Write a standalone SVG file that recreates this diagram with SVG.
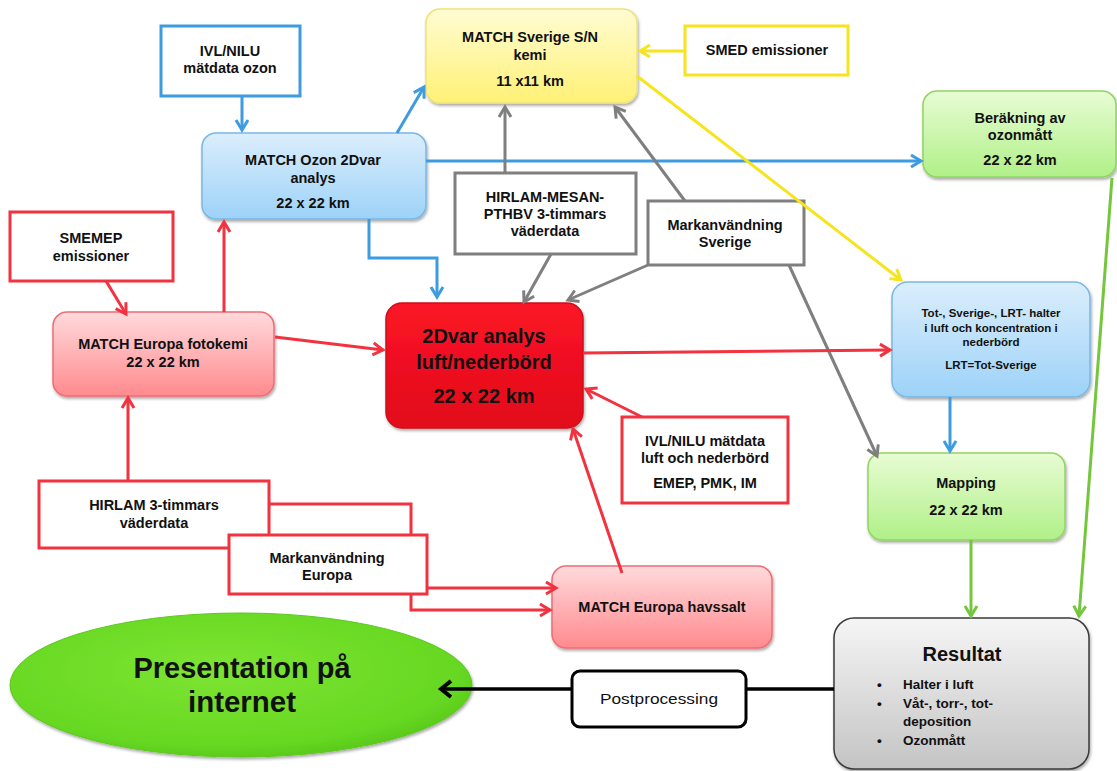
<svg xmlns="http://www.w3.org/2000/svg" width="1117" height="771" viewBox="0 0 1117 771">
<style>
.t{font-family:"Liberation Sans",Arial,sans-serif;font-weight:bold;font-size:14.5px;fill:#111;text-anchor:middle}
.s{font-size:11.5px}
.big{font-size:20px}
.pres{font-family:"Liberation Sans Narrow","Liberation Sans",Arial,sans-serif;font-size:29px}
.pp{font-family:"Liberation Sans Narrow","Liberation Sans",Arial,sans-serif;font-weight:normal;font-size:15px}
.bl{text-anchor:start;font-size:13.5px}
.c{fill:none;stroke-width:3;stroke-linejoin:miter}
.blue{stroke:#3d9be0}
.red{stroke:#f2323e}
.gray{stroke:#7f7f7f}
.yel{stroke:#f5e41e}
.grn{stroke:#74c63d}
.blk{stroke:#000;stroke-width:3.5}
.ob{fill:#fff;stroke-width:3}
</style>
<defs>
<linearGradient id="gBlue" x1="0" y1="0" x2="0" y2="1"><stop offset="0" stop-color="#dbeefc"/><stop offset="1" stop-color="#9dd2f8"/></linearGradient>
<linearGradient id="gYel" x1="0" y1="0" x2="0" y2="1"><stop offset="0" stop-color="#fffcd2"/><stop offset="1" stop-color="#fff176"/></linearGradient>
<linearGradient id="gPink" x1="0" y1="0" x2="0" y2="1"><stop offset="0" stop-color="#ffdadc"/><stop offset="1" stop-color="#ff8a8e"/></linearGradient>
<linearGradient id="gRed" x1="0" y1="0" x2="0" y2="1"><stop offset="0" stop-color="#fb1426"/><stop offset="1" stop-color="#e20c1b"/></linearGradient>
<linearGradient id="gGrn" x1="0" y1="0" x2="0" y2="1"><stop offset="0" stop-color="#e8fcd4"/><stop offset="1" stop-color="#b0f088"/></linearGradient>
<linearGradient id="gGray" x1="0" y1="0" x2="0" y2="1"><stop offset="0" stop-color="#f5f5f5"/><stop offset="1" stop-color="#c4c4c4"/></linearGradient>
<radialGradient id="gEll" cx="0.45" cy="0.4" r="0.65"><stop offset="0" stop-color="#7ee433"/><stop offset="0.8" stop-color="#66d822"/><stop offset="1" stop-color="#55c418"/></radialGradient>
<filter id="sh" x="-10%" y="-10%" width="120%" height="130%"><feDropShadow dx="1" dy="2" stdDeviation="1.5" flood-opacity="0.35"/></filter>
<marker id="aBlue" markerUnits="userSpaceOnUse" markerWidth="16" markerHeight="16" viewBox="0 0 16 16" refX="13" refY="8" orient="auto"><path d="M3,2 L13,8 L3,14" fill="none" stroke="#3d9be0" stroke-width="3"/></marker>
<marker id="aRed" markerUnits="userSpaceOnUse" markerWidth="16" markerHeight="16" viewBox="0 0 16 16" refX="13" refY="8" orient="auto"><path d="M3,2 L13,8 L3,14" fill="none" stroke="#f2323e" stroke-width="3"/></marker>
<marker id="aGray" markerUnits="userSpaceOnUse" markerWidth="16" markerHeight="16" viewBox="0 0 16 16" refX="13" refY="8" orient="auto"><path d="M3,2 L13,8 L3,14" fill="none" stroke="#7f7f7f" stroke-width="3"/></marker>
<marker id="aYel" markerUnits="userSpaceOnUse" markerWidth="16" markerHeight="16" viewBox="0 0 16 16" refX="13" refY="8" orient="auto"><path d="M3,2 L13,8 L3,14" fill="none" stroke="#f5e41e" stroke-width="3"/></marker>
<marker id="aGrn" markerUnits="userSpaceOnUse" markerWidth="16" markerHeight="16" viewBox="0 0 16 16" refX="13" refY="8" orient="auto"><path d="M3,2 L13,8 L3,14" fill="none" stroke="#74c63d" stroke-width="3"/></marker>
<marker id="aBlk" markerUnits="userSpaceOnUse" markerWidth="20" markerHeight="20" viewBox="0 0 20 20" refX="16" refY="10" orient="auto"><path d="M6,2 L16,10 L6,18" fill="none" stroke="#000" stroke-width="4"/></marker>
</defs>
<rect width="1117" height="771" fill="#fff"/>

<g id="nodes">
<g id="ivl-ozon"><rect class="ob blue" x="161" y="26" width="139" height="70"/><text class="t" x="230" y="56">IVL/NILU</text><text class="t" x="230" y="73">mätdata ozon</text></g>
<g id="match-ozon"><rect x="202" y="133" width="224" height="86" rx="14" fill="url(#gBlue)" stroke="#78b8e6" stroke-width="1.5" filter="url(#sh)"/><text class="t" x="313" y="165">MATCH Ozon 2Dvar</text><text class="t" x="313" y="183">analys</text><text class="t" x="313" y="208">22 x 22 km</text></g>
<g id="match-sverige"><rect x="426" y="9" width="211" height="94" rx="14" fill="url(#gYel)" stroke="#f0e27a" stroke-width="1.5" filter="url(#sh)"/><text class="t" x="530" y="42">MATCH Sverige S/N</text><text class="t" x="530" y="60">kemi</text><text class="t" x="530" y="86">11 x11 km</text></g>
<g id="smed"><rect class="ob yel" x="685" y="26" width="163" height="49"/><text class="t" x="767" y="55">SMED emissioner</text></g>
<g id="berakning"><rect x="923" y="91" width="193" height="86" rx="14" fill="url(#gGrn)" stroke="#92d464" stroke-width="1.5" filter="url(#sh)"/><text class="t" x="1020" y="123">Beräkning av</text><text class="t" x="1020" y="140">ozonmått</text><text class="t" x="1020" y="165">22 x 22 km</text></g>
<g id="smemep"><rect class="ob red" x="10" y="212" width="163" height="69"/><text class="t" x="91" y="243">SMEMEP</text><text class="t" x="91" y="261">emissioner</text></g>
<g id="hirlam-mesan"><rect class="ob gray" x="455" y="173" width="181" height="81"/><text class="t" x="545" y="202">HIRLAM-MESAN-</text><text class="t" x="545" y="219">PTHBV 3-timmars</text><text class="t" x="545" y="236">väderdata</text></g>
<g id="mark-sverige"><rect class="ob gray" x="648" y="201" width="156" height="64"/><text class="t" x="725" y="230">Markanvändning</text><text class="t" x="725" y="247">Sverige</text></g>
<g id="europa-fotokemi"><rect x="53" y="312" width="221" height="84" rx="14" fill="url(#gPink)" stroke="#ee6e76" stroke-width="1.5" filter="url(#sh)"/><text class="t" x="163" y="349">MATCH Europa fotokemi</text><text class="t" x="163" y="367">22 x 22 km</text></g>
<g id="dvar"><rect x="386" y="303" width="197" height="125" rx="16" fill="url(#gRed)" stroke="#d00e1a" stroke-width="1.5" filter="url(#sh)"/><text class="t big" x="484" y="343">2Dvar analys</text><text class="t big" x="484" y="369">luft/nederbörd</text><text class="t big" x="484" y="403">22 x 22 km</text></g>
<g id="tot"><rect x="892" y="282" width="198" height="115" rx="16" fill="url(#gBlue)" stroke="#78b8e6" stroke-width="1.5" filter="url(#sh)"/><text class="t s" x="991" y="317">Tot-, Sverige-, LRT- halter</text><text class="t s" x="991" y="332">i luft och koncentration i</text><text class="t s" x="991" y="346">nederbörd</text><text class="t s" x="991" y="369">LRT=Tot-Sverige</text></g>
<g id="ivl-luft"><rect class="ob red" x="622" y="417" width="166" height="86"/><text class="t" x="705" y="446">IVL/NILU mätdata</text><text class="t" x="705" y="463">luft och nederbörd</text><text class="t" x="705" y="488">EMEP, PMK, IM</text></g>
<g id="hirlam"><rect class="ob red" x="39" y="481" width="230" height="67"/><text class="t" x="154" y="510">HIRLAM 3-timmars</text><text class="t" x="154" y="528">väderdata</text></g>
<g id="mark-europa"><rect class="ob red" x="229" y="535" width="198" height="59"/><text class="t" x="327" y="563">Markanvändning</text><text class="t" x="327" y="580">Europa</text></g>
<g id="havssalt"><rect x="552" y="566" width="220" height="82" rx="14" fill="url(#gPink)" stroke="#ee6e76" stroke-width="1.5" filter="url(#sh)"/><text class="t" x="662" y="612">MATCH Europa havssalt</text></g>
<g id="mapping"><rect x="868" y="453" width="197" height="87" rx="14" fill="url(#gGrn)" stroke="#92d464" stroke-width="1.5" filter="url(#sh)"/><text class="t" x="966" y="488">Mapping</text><text class="t" x="966" y="515">22 x 22 km</text></g>
<g id="resultat"><rect x="834" y="618" width="255" height="151" rx="20" fill="url(#gGray)" stroke="#3a3a3a" stroke-width="1.5" filter="url(#sh)"/><text class="t big" x="962" y="661">Resultat</text><text class="t bl" x="877" y="689">•</text><text class="t bl" x="903" y="689">Halter i luft</text><text class="t bl" x="877" y="708">•</text><text class="t bl" x="903" y="708">Våt-, torr-, tot-</text><text class="t bl" x="903" y="726">deposition</text><text class="t bl" x="877" y="745">•</text><text class="t bl" x="903" y="745">Ozonmått</text></g>
<g id="presentation"><ellipse cx="241" cy="685" rx="231" ry="72" fill="url(#gEll)" stroke="#5cc81e" stroke-width="1" filter="url(#sh)"/><text class="t pres" x="242" y="678" textLength="217" lengthAdjust="spacingAndGlyphs">Presentation på</text><text class="t pres" x="242" y="712" textLength="108" lengthAdjust="spacingAndGlyphs">internet</text></g>
<g id="postprocessing"><rect x="572" y="671" width="174" height="56" rx="8" fill="#fff" stroke="#000" stroke-width="3"/><text class="t pp" x="659" y="704" textLength="118" lengthAdjust="spacingAndGlyphs">Postprocessing</text></g>
</g>

<g id="connectors">
<path class="c blue" d="M242,96 L242,130" marker-end="url(#aBlue)"/>
<path class="c blue" d="M397,133 L424,87" marker-end="url(#aBlue)"/>
<path class="c blue" d="M426,161 L921,161" marker-end="url(#aBlue)"/>
<path class="c blue" d="M369,219 L369,258 L437,258 L437,297" marker-end="url(#aBlue)"/>
<path class="c blue" d="M950,397 L950,451" marker-end="url(#aBlue)"/>
<path class="c yel" d="M685,51 L640,51" marker-end="url(#aYel)"/>
<path class="c yel" d="M637,76 L901,280" marker-end="url(#aYel)"/>
<path class="c gray" d="M505,173 L505,107" marker-end="url(#aGray)"/>
<path class="c gray" d="M685,201 L615,107" marker-end="url(#aGray)"/>
<path class="c gray" d="M551,254 L524,302" marker-end="url(#aGray)"/>
<path class="c gray" d="M648,265 L568,300" marker-end="url(#aGray)"/>
<path class="c gray" d="M789,265 L877,456" marker-end="url(#aGray)"/>
<path class="c red" d="M106,281 L126,314" marker-end="url(#aRed)"/>
<path class="c red" d="M224,312 L224,222" marker-end="url(#aRed)"/>
<path class="c red" d="M275,337 L383,350" marker-end="url(#aRed)"/>
<path class="c red" d="M128,481 L128,398" marker-end="url(#aRed)"/>
<path class="c red" d="M583,353 L890,350" marker-end="url(#aRed)"/>
<path class="c red" d="M642,417 L586,389" marker-end="url(#aRed)"/>
<path class="c red" d="M622,573 L573,429" marker-end="url(#aRed)"/>
<path class="c red" d="M269,504 L411,504 L411,535"/>
<path class="c red" d="M411,594 L411,610 L550,610" marker-end="url(#aRed)"/>
<path class="c red" d="M427,588 L556,588" marker-end="url(#aRed)"/>
<path class="c grn" d="M1112,178 L1079,616" marker-end="url(#aGrn)"/>
<path class="c grn" d="M971,540 L971,616" marker-end="url(#aGrn)"/>
<path class="c blk" d="M834,689 L746,689"/>
<path class="c blk" d="M572,689 L441,689" marker-end="url(#aBlk)"/>
</g>
</svg>
